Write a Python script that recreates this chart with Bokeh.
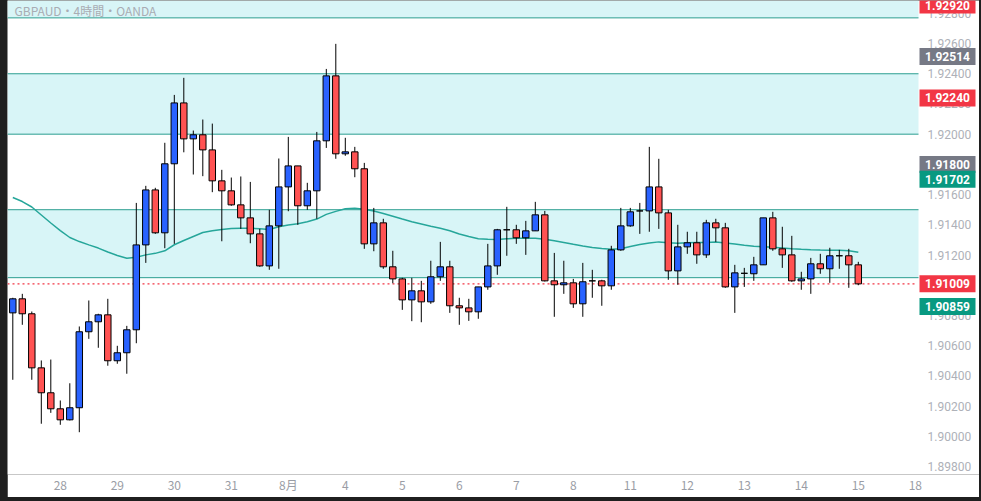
from bokeh.plotting import figure
from bokeh.layouts import column
from bokeh.models import Range1d, FixedTicker, BoxAnnotation, Label, ColumnDataSource
from bokeh.core.properties import value
from bokeh.embed import file_html
from bokeh.resources import INLINE

# ---- data (GBPAUD 4h) ----
opens = [
    1.90817, 1.90910, 1.90811, 1.90453, 1.90288, 1.90182, 1.90109, 1.90189, 1.90692, 1.90758,
    1.90804, 1.90500, 1.90553, 1.90705, 1.91267, 1.91631, 1.91347, 1.91804, 1.92207, 1.91969,
    1.91996, 1.91896, 1.91691, 1.91625, 1.91532, 1.91446, 1.91340, 1.91128, 1.91393, 1.91651,
    1.91790, 1.91526, 1.91625, 1.91956, 1.92386, 1.91870, 1.91883, 1.91771, 1.91274, 1.91413,
    1.91122, 1.91042, 1.90903, 1.90963, 1.90890, 1.91056, 1.91122, 1.90864, 1.90850, 1.90824,
    1.90989, 1.91128, 1.91367, 1.91367, 1.91314, 1.91360, 1.91466, 1.91029, 1.91003, 1.91016,
    1.90877, 1.91029, 1.91029, 1.90996, 1.91234, 1.91393, 1.91492, 1.91492, 1.91651, 1.91479,
    1.91095, 1.91254, 1.91281, 1.91201, 1.91413, 1.91380, 1.90989, 1.91079, 1.91076, 1.91135,
    1.91446, 1.91241, 1.91201, 1.91029, 1.91042, 1.91142, 1.91109, 1.91195, 1.91195, 1.91135]
closes = [
    1.90910, 1.90811, 1.90453, 1.90288, 1.90182, 1.90109, 1.90189, 1.90692, 1.90758, 1.90804,
    1.90500, 1.90553, 1.90705, 1.91267, 1.91631, 1.91347, 1.91804, 1.92207, 1.91969, 1.91996,
    1.91896, 1.91691, 1.91625, 1.91532, 1.91446, 1.91340, 1.91128, 1.91393, 1.91651, 1.91790,
    1.91526, 1.91625, 1.91956, 1.92386, 1.91870, 1.91883, 1.91771, 1.91274, 1.91413, 1.91122,
    1.91042, 1.90903, 1.90963, 1.90890, 1.91056, 1.91122, 1.90864, 1.90850, 1.90824, 1.90989,
    1.91128, 1.91367, 1.91367, 1.91314, 1.91360, 1.91466, 1.91029, 1.91003, 1.91016, 1.90877,
    1.91023, 1.91029, 1.90996, 1.91234, 1.91393, 1.91486, 1.91492, 1.91651, 1.91479, 1.91095,
    1.91254, 1.91281, 1.91201, 1.91413, 1.91380, 1.90989, 1.91082, 1.91079, 1.91135, 1.91446,
    1.91241, 1.91201, 1.91029, 1.91042, 1.91142, 1.91109, 1.91195, 1.91195, 1.91135, 1.91009]
highs = [
    1.90917, 1.90943, 1.90826, 1.90502, 1.90508, 1.90237, 1.90351, 1.90727, 1.90899, 1.90811,
    1.90910, 1.90599, 1.90731, 1.91545, 1.91658, 1.91645, 1.91943, 1.92260, 1.92373, 1.92024,
    1.92097, 1.92070, 1.91764, 1.91713, 1.91720, 1.91684, 1.91373, 1.91499, 1.91839, 1.91982,
    1.91790, 1.91678, 1.92015, 1.92432, 1.92598, 1.91976, 1.91916, 1.91810, 1.91512, 1.91440,
    1.91228, 1.91049, 1.91049, 1.91029, 1.91162, 1.91287, 1.91162, 1.90917, 1.90910, 1.90989,
    1.91274, 1.91373, 1.91519, 1.91400, 1.91426, 1.91552, 1.91492, 1.91214, 1.91162, 1.91042,
    1.91148, 1.91102, 1.91036, 1.91261, 1.91512, 1.91512, 1.91545, 1.91916, 1.91837, 1.91499,
    1.91400, 1.91354, 1.91354, 1.91433, 1.91440, 1.91413, 1.91135, 1.91115, 1.91188, 1.91446,
    1.91486, 1.91387, 1.91327, 1.91089, 1.91181, 1.91208, 1.91248, 1.91234, 1.91241, 1.91155]
lows = [
    1.90374, 1.90738, 1.90374, 1.90083, 1.90155, 1.90076, 1.90105, 1.90027, 1.90645, 1.90586,
    1.90467, 1.90480, 1.90414, 1.90616, 1.91148, 1.91340, 1.91245, 1.91274, 1.91880, 1.91733,
    1.91722, 1.91616, 1.91291, 1.91526, 1.91373, 1.91278, 1.91122, 1.91102, 1.91109, 1.91490,
    1.91400, 1.91499, 1.91440, 1.91909, 1.91837, 1.91857, 1.91715, 1.91241, 1.91225, 1.91109,
    1.91013, 1.90837, 1.90762, 1.90755, 1.90877, 1.91029, 1.90817, 1.90738, 1.90764, 1.90778,
    1.90970, 1.91069, 1.91195, 1.91274, 1.91201, 1.91360, 1.91025, 1.90791, 1.90943, 1.90850,
    1.90791, 1.90917, 1.90864, 1.90970, 1.91228, 1.91387, 1.91340, 1.91354, 1.91373, 1.91036,
    1.91003, 1.91208, 1.91142, 1.91181, 1.91287, 1.90983, 1.90817, 1.90989, 1.91029, 1.91135,
    1.91228, 1.91115, 1.91023, 1.90970, 1.90943, 1.91076, 1.91016, 1.91109, 1.90983, 1.91000]
ma = [
    1.91581, 1.91554, 1.91518, 1.91465, 1.91412, 1.91362, 1.91316, 1.91289, 1.91267, 1.91246,
    1.91220, 1.91197, 1.91179, 1.91185, 1.91201, 1.91211, 1.91228, 1.91268, 1.91296, 1.91323,
    1.91349, 1.91360, 1.91369, 1.91375, 1.91377, 1.91377, 1.91374, 1.91369, 1.91387, 1.91399,
    1.91407, 1.91420, 1.91438, 1.91469, 1.91489, 1.91506, 1.91510, 1.91503, 1.91492, 1.91475,
    1.91457, 1.91438, 1.91420, 1.91405, 1.91390, 1.91377, 1.91361, 1.91339, 1.91322, 1.91308,
    1.91304, 1.91303, 1.91307, 1.91311, 1.91311, 1.91311, 1.91304, 1.91294, 1.91283, 1.91271,
    1.91260, 1.91250, 1.91243, 1.91239, 1.91242, 1.91256, 1.91270, 1.91279, 1.91287, 1.91282,
    1.91278, 1.91281, 1.91283, 1.91283, 1.91286, 1.91280, 1.91273, 1.91265, 1.91258, 1.91255,
    1.91252, 1.91247, 1.91242, 1.91238, 1.91235, 1.91233, 1.91232, 1.91231, 1.91228, 1.91218]

day_ticks = [5, 11, 17, 23, 29, 35, 41, 47, 53, 59, 65, 71, 77, 83, 89, 95]
day_labels = ["28", "29", "30", "31", "8月", "4", "5", "6", "7", "8", "11", "12", "13", "14", "15", "18"]
price_ticks = [1.898, 1.900, 1.902, 1.904, 1.906, 1.908, 1.910, 1.912, 1.914,
               1.916, 1.918, 1.920, 1.922, 1.924, 1.926, 1.928]
zone_bands = [(1.9277, None), (1.9200, 1.9240), (1.9105, 1.9150)]
zone_lines = [1.9277, 1.9240, 1.9200, 1.9150, 1.9105]
last_price = 1.91009
tag_values = [1.92920, 1.92514, 1.92240, 1.91800, 1.91702, 1.91009, 1.90859]
tag_colors = ["#f23645", "#767985", "#f23645", "#767985", "#089981", "#f23645", "#089981"]
title_text = "GBPAUD・4時間・OANDA"

# ---- layout constants ----
LEFT = 7            # page x of the frame's left edge (dark window edge to its left)
FW, FH = 972, 474   # frame (chart pane + price-scale pane)
STEP = 9.5          # px per 4h bar
x0 = -0.558
x1 = x0 + FW / STEP
y0, y1 = 1.89747, 1.92885
ppu = FH / (y1 - y0)


def px_to_x(px):
    return x0 + (px - LEFT) / STEP


split = px_to_x(918)          # chart pane | price scale pane

idx = list(range(len(opens)))
src = ColumnDataSource(dict(
    x=idx,
    top=[max(o, c) for o, c in zip(opens, closes)],
    bottom=[min(o, c) for o, c in zip(opens, closes)],
    high=highs, low=lows,
    color=["#2962ff" if c >= o else "#ff5252" for o, c in zip(opens, closes)],
))

p = figure(frame_width=FW, frame_height=FH,
           x_range=Range1d(x0, x1), y_range=Range1d(y0, y1),
           y_axis_location=None, toolbar_location=None, output_backend="svg",
           min_border_left=0, min_border_top=0, min_border_right=0, min_border_bottom=23)
p.margin = (0, 2, 4, LEFT)
p.background_fill_color = "white"
p.border_fill_color = "white"
p.outline_line_color = None
p.xgrid.visible = False
p.ygrid.visible = False

teal = "#2b9e90"
for b, t in zone_bands:
    p.add_layout(BoxAnnotation(left=x0, right=split, bottom=b, top=t, fill_color="#d8f5f7",
                               fill_alpha=1.0, line_color=None, level="underlay"))
n = len(zone_lines)
p.segment(x0=[x0] * n, x1=[split] * n, y0=zone_lines, y1=zone_lines,
          line_color=teal, line_width=1)
p.segment(x0=[x0], x1=[px_to_x(915)], y0=[last_price], y1=[last_price],
          line_color="#f23645", line_width=1.3, line_dash="2 3")

p.line(idx, ma, line_color="#26a69a", line_width=1.5)
p.segment(x0="x", y0="high", x1="x", y1="low", source=src, line_color="black", line_width=1)
p.vbar(x="x", width=0.68, top="top", bottom="bottom", source=src,
       fill_color="color", line_color="black", line_width=1)

# price scale (right pane)
p.text(x=[px_to_x(927)] * len(price_ticks), y=price_ticks,
       text=[f"{v:.5f}" for v in price_ticks],
       text_color="#aeb1b8", text_font=value("Roboto"), text_font_size="12px",
       text_align="left", text_baseline="middle")

tag_y = [min(v, y1 - 4.5 / ppu) for v in tag_values]
tag_x = px_to_x(947)
p.rect(x=[tag_x] * len(tag_values), y=tag_y, width=56, height=17,
       width_units="screen", height_units="screen", fill_color=tag_colors, line_color=None)
p.text(x=[tag_x] * len(tag_values), y=tag_y, text=[f"{v:.5f}" for v in tag_values],
       text_color="white", text_font=value("Roboto"), text_font_size="12px",
       text_font_style="bold", text_align="center", text_baseline="middle")

# time axis
xa = p.xaxis[0]
xa.ticker = FixedTicker(ticks=day_ticks)
xa.major_label_overrides = {t: l for t, l in zip(day_ticks, day_labels)}
xa.axis_line_color = None
xa.major_tick_line_color = None
xa.minor_tick_line_color = None
xa.major_tick_out = 0
xa.major_tick_in = 0
xa.major_label_text_color = "#9a9da5"
xa.major_label_text_font = "Noto Sans CJK JP"
xa.major_label_text_font_size = "12px"
xa.major_label_standoff = 1

p.add_layout(Label(x=x0, y=y1 - 10 / ppu, x_offset=7, text=title_text, text_color="#a9acb3",
                   text_font="Noto Sans CJK JP", text_font_size="12px",
                   text_align="left", text_baseline="middle"))

page = column(p, styles={"background-color": "#1f1f1f"})
open("out.html", "w").write(file_html(page, INLINE))
